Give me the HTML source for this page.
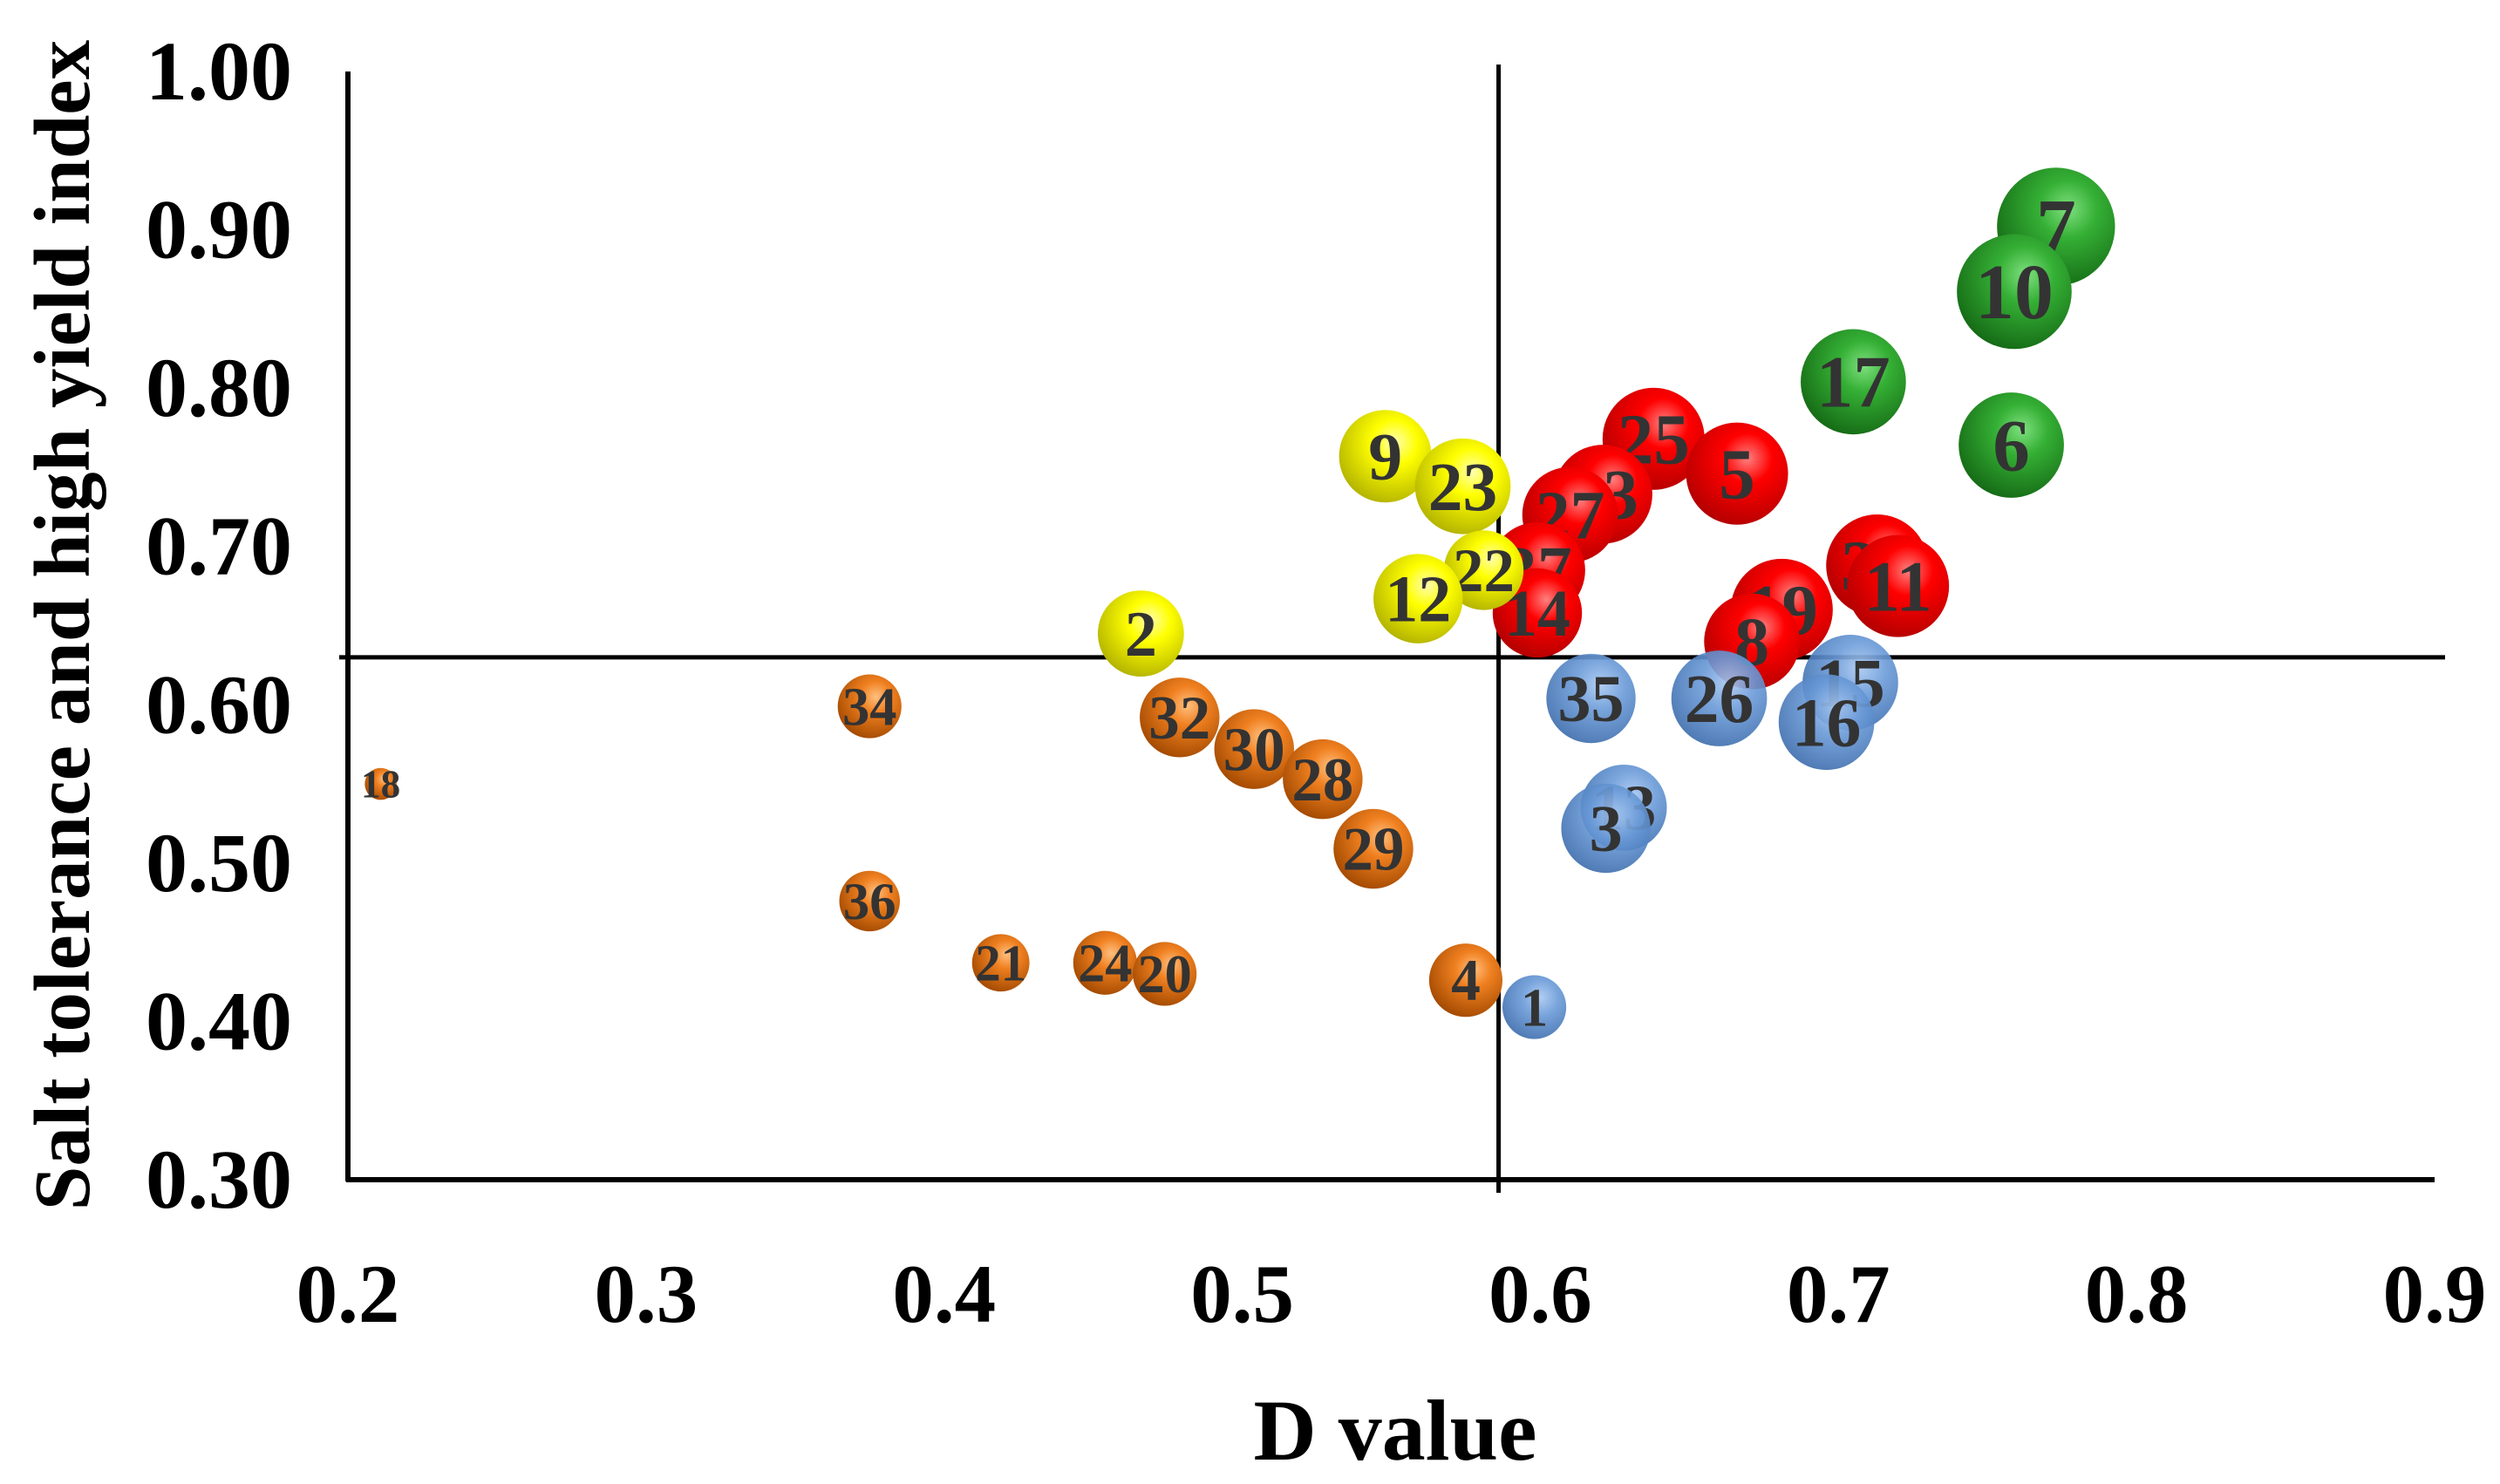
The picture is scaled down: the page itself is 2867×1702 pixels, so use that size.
<!DOCTYPE html>
<html><head><meta charset="utf-8"><style>html,body{margin:0;padding:0;background:#fff}svg{display:block}</style></head>
<body>
<svg id="chart" width="2867" height="1702" viewBox="0 0 2867 1702" xmlns="http://www.w3.org/2000/svg">
<defs>
<radialGradient id="g-green" cx="0.6" cy="0.35" r="0.7"><stop offset="0" stop-color="#7fe07f"/><stop offset="0.35" stop-color="#35b035"/><stop offset="1" stop-color="#146814"/></radialGradient>
<radialGradient id="g-red" cx="0.6" cy="0.35" r="0.7"><stop offset="0" stop-color="#ff8080"/><stop offset="0.35" stop-color="#ff0000"/><stop offset="1" stop-color="#b00000"/></radialGradient>
<radialGradient id="g-yellow" cx="0.6" cy="0.35" r="0.7"><stop offset="0" stop-color="#ffffb0"/><stop offset="0.35" stop-color="#ffff00"/><stop offset="1" stop-color="#b0b000"/></radialGradient>
<radialGradient id="g-blue" cx="0.6" cy="0.35" r="0.7"><stop offset="0" stop-color="#a8c8f0"/><stop offset="0.4" stop-color="#6a9ad8"/><stop offset="1" stop-color="#3a6aaa"/></radialGradient>
<radialGradient id="g-orange" cx="0.6" cy="0.35" r="0.7"><stop offset="0" stop-color="#ffc080"/><stop offset="0.35" stop-color="#f08020"/><stop offset="1" stop-color="#a04800"/></radialGradient>
</defs>
<g id="axes"></g>
<g id="bubbles"></g>
</svg>
<script>
const labels = [7,10,17,6,25,5,33,27,37,14,31,11,19,8,9,23,22,12,2,35,26,15,16,13,3,1,34,32,30,28,29,36,21,24,20,4,18];
const dValues = [0.773,0.759,0.705,0.758,0.638,0.666,0.621,0.610,0.599,0.599,0.713,0.720,0.681,0.671,0.548,0.574,0.581,0.559,0.466,0.617,0.660,0.704,0.696,0.628,0.622,0.598,0.375,0.479,0.504,0.527,0.544,0.375,0.419,0.454,0.474,0.575,0.211];
const indexValues = [0.902,0.861,0.804,0.764,0.768,0.746,0.733,0.720,0.685,0.658,0.688,0.675,0.660,0.640,0.757,0.738,0.685,0.667,0.645,0.604,0.604,0.614,0.589,0.535,0.522,0.409,0.599,0.592,0.572,0.553,0.509,0.476,0.437,0.437,0.430,0.426,0.550];
const sizes = [37,36,33,33,32,32,31,30,30,28,32,32,32,30,29,30,25,28,27,28,30,30,30,27,28,20,20,25,25,25,25,19,18,20,20,23,10];
const groups = ['green','green','green','green','red','red','red','red','red','red','red','red','red','red','yellow','yellow','yellow','yellow','yellow','blue','blue','blue','blue','blue','blue','blue','orange','orange','orange','orange','orange','orange','orange','orange','orange','orange','orange'];
const xTicks = ['0.2','0.3','0.4','0.5','0.6','0.7','0.8','0.9'];
const yTicks = ['0.30','0.40','0.50','0.60','0.70','0.80','0.90','1.00'];
const dThreshold = 0.586;
const indexThreshold = 0.630;

const NS='http://www.w3.org/2000/svg';
const X0=399, X1=2792, Y0=1353, Y1=82;
function sx(v){return X0+(v-0.2)/0.7*(X1-X0);}
function sy(v){return Y0-(v-0.3)/0.7*(Y0-Y1);}
function mk(tag,attrs,parent){const e=document.createElementNS(NS,tag);for(const k in attrs)e.setAttribute(k,attrs[k]);parent.appendChild(e);return e;}
const axes=document.getElementById('axes');
const bub=document.getElementById('bubbles');

let e=mk('line',{x1:X0,y1:Y1,x2:X0,y2:Y0+2,stroke:'#000','stroke-width':6},axes);


e=mk('line',{x1:X0-2,y1:Y0,x2:X1,y2:Y0,stroke:'#000','stroke-width':6},axes);


e=mk('line',{x1:sx(dThreshold),y1:Y1-8,x2:sx(dThreshold),y2:Y0+15,stroke:'#000','stroke-width':5},axes);


e=mk('line',{x1:X0-10,y1:sy(indexThreshold),x2:X1+12,y2:sy(indexThreshold),stroke:'#000','stroke-width':5},axes);



xTicks.forEach(t=>{
  const el=mk('text',{x:sx(parseFloat(t)),y:1516,'text-anchor':'middle','font-family':'Liberation Serif, serif','font-weight':'bold','font-size':95,fill:'#000'},axes);
  el.textContent=t;
  
  
});
yTicks.forEach(t=>{
  const el=mk('text',{x:335,y:sy(parseFloat(t))+32,'text-anchor':'end','font-family':'Liberation Serif, serif','font-weight':'bold','font-size':96,fill:'#000'},axes);
  el.textContent=t;
  
  
});
e=mk('text',{x:1600,y:1674,'text-anchor':'middle','font-family':'Liberation Serif, serif','font-weight':'bold','font-size':100,fill:'#000'},axes);
e.textContent='D value';


e=mk('text',{x:0,y:0,transform:'translate(102,717) rotate(-90)','text-anchor':'middle','font-family':'Liberation Serif, serif','font-weight':'bold','font-size':91,fill:'#000'},axes);
e.textContent='Salt tolerance and high yield index';



labels.forEach((lab,i)=>{
  const cx=sx(dValues[i]), cy=sy(indexValues[i]), r=sizes[i]*1.8285;
  const g=mk('g',{},bub);
  
  
  mk('circle',{cx:cx,cy:cy,r:r,fill:'url(#g-'+groups[i]+')','fill-opacity':groups[i]==='blue'?0.9:1},g);
  const fs=28+r*0.94;
  const t=mk('text',{x:cx,y:cy+fs*0.34,'text-anchor':'middle','font-family':'Liberation Serif, serif','font-weight':'bold','font-size':fs,fill:'#333'},g);
  t.textContent=String(lab);
});
</script>
</body></html>
